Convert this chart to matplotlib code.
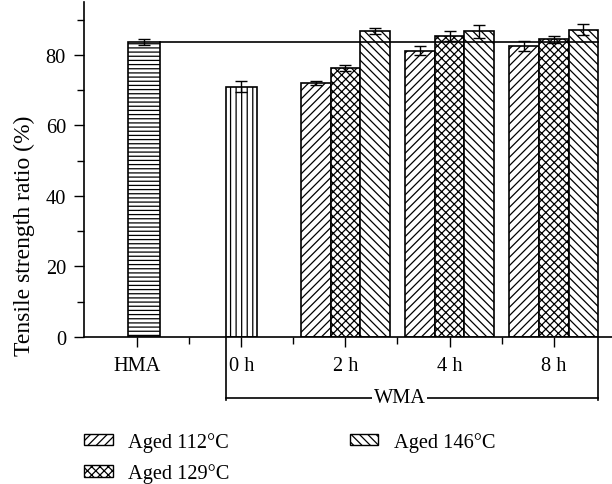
#!/usr/bin/env python3
# -*- coding: utf-8 -*-

"""
Tensile strength ratio of HMA and WMA (aged) mixes, grouped bar chart
"""

import numpy as np
import matplotlib
matplotlib.use('Agg')
import matplotlib.pyplot as plt
from matplotlib.patches import Patch

# --- data -------------------------------------------------------------
categories = ['HMA', '0 h', '2 h', '4 h', '8 h']

hma_value = 83.6
hma_err = 0.8
wma0_value = 71.0
wma0_err = 1.5

aged_labels = ['Aged 112\u00b0C', 'Aged 129\u00b0C', 'Aged 146\u00b0C']
aged_times = ['2 h', '4 h', '8 h']
aged_112 = [72.0, 81.2, 82.4]
aged_112_err = [0.5, 1.2, 1.4]
aged_129 = [76.3, 85.3, 84.4]
aged_129_err = [0.8, 1.4, 1.1]
aged_146 = [86.7, 86.7, 87.2]
aged_146_err = [0.85, 1.9, 1.6]

# --- style ------------------------------------------------------------
plt.rcParams['font.family'] = ['Liberation Serif', 'DejaVu Serif']
plt.rcParams['font.size'] = 14.7
plt.rcParams['hatch.linewidth'] = 0.9

bar_w = 0.285
hatches = ['////', 'xxxx', '\\\\\\\\']
bar_kw = dict(facecolor='white', edgecolor='black', linewidth=1.2)
err_kw = dict(ecolor='black', elinewidth=1.0, capsize=4, capthick=1.0)

fig = plt.figure(figsize=(6.12, 4.85), dpi=100)
ax = fig.add_axes([84 / 612, 1 - 338 / 485, 1 - 84 / 612, 335 / 485])

x = np.arange(len(categories))

# HMA and unaged WMA
ax.bar(x[0] + 0.065, hma_value, bar_w + 0.02, yerr=hma_err, hatch='----',
       error_kw=err_kw, **bar_kw)
ax.bar(x[1], wma0_value, bar_w + 0.01, yerr=wma0_err, hatch='|||',
       error_kw=err_kw, **bar_kw)

# aged WMA groups
xg = np.array([categories.index(t) for t in aged_times], dtype=float)
series = [(aged_112, aged_112_err), (aged_129, aged_129_err),
          (aged_146, aged_146_err)]
for i, (vals, errs) in enumerate(series):
    ax.bar(xg + (i - 1) * bar_w, vals, bar_w, yerr=errs, hatch=hatches[i],
           error_kw=err_kw, **bar_kw)

# reference line at the HMA level
x_end = xg[-1] + 1.5 * bar_w
ax.plot([x[0] + 0.065 + (bar_w + 0.02) / 2, x_end], [hma_value, hma_value],
        color='black', linewidth=1.2, zorder=3)

# axes
ax.set_xlim(-0.51, 4.56)
ax.set_ylim(0, 95)
ax.set_xticks(x)
ax.set_xticklabels(categories)
ax.set_xticks(x[:-1] + 0.5, minor=True)
ax.set_yticks(np.arange(0, 81, 20))
ax.set_yticks(np.arange(10, 91, 20), minor=True)
ax.tick_params(which='major', direction='out', length=7, width=1.0, pad=6)
ax.tick_params(which='minor', direction='out', length=5, width=1.0)
ax.tick_params(axis='x', which='major', pad=7)
for side in ['top', 'right']:
    ax.spines[side].set_visible(False)
for side in ['left', 'bottom']:
    ax.spines[side].set_linewidth(1.2)
ax.set_ylabel('Tensile strength ratio (%)', fontsize=17)
ax.yaxis.set_label_coords(-0.093, 0.304)

# WMA bracket under the axis
tr = ax.get_xaxis_transform()
x_left = x[1] - (bar_w + 0.01) / 2
yb = -0.182
ax.plot([x_left, x_left], [0, yb - 0.006], color='black', lw=1.2,
        transform=tr, clip_on=False)
ax.plot([x_end, x_end], [0, yb - 0.006], color='black', lw=1.2,
        transform=tr, clip_on=False)
ax.plot([x_left, x_end], [yb, yb], color='black', lw=1.2,
        transform=tr, clip_on=False)
ax.text(2.52, yb, 'WMA', transform=tr, ha='center', va='center',
        bbox=dict(facecolor='white', edgecolor='none', pad=1.0))

# legend
handles = [Patch(facecolor='white', edgecolor='black', hatch=h, linewidth=1.0)
           for h in hatches]
fig.legend(handles, aged_labels, ncol=2, loc='upper left',
           bbox_to_anchor=(84 / 612, 1 - 433 / 485), frameon=False,
           handlelength=1.4, handleheight=0.5, handletextpad=0.75,
           columnspacing=5.9, labelspacing=0.55, borderpad=0,
           borderaxespad=0)

fig.savefig('out.png', dpi=100)
